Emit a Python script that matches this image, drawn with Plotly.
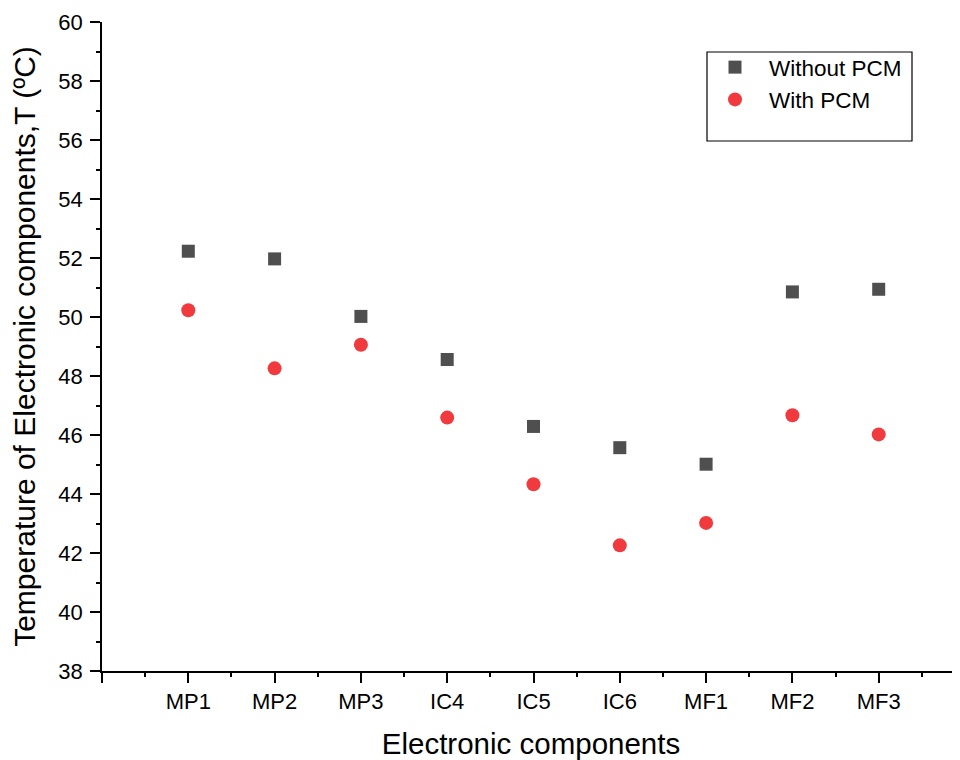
import plotly.graph_objects as go

categories = ["MP1", "MP2", "MP3", "IC4", "IC5", "IC6", "MF1", "MF2", "MF3"]
without_pcm = [52.23, 51.97, 50.02, 48.56, 46.29, 45.57, 45.01, 50.85, 50.94]
with_pcm = [50.23, 48.26, 49.06, 46.59, 44.33, 42.26, 43.02, 46.67, 46.02]
y_ticks = list(range(38, 61, 2))

xpos = list(range(1, len(categories) + 1))
FONT = "Liberation Sans, Arial, sans-serif"

fig = go.Figure()
fig.add_trace(go.Scatter(
    x=xpos, y=without_pcm, mode="markers", name="Without PCM",
    marker=dict(symbol="square", size=13, color="#4f4f4f"),
))
fig.add_trace(go.Scatter(
    x=xpos, y=with_pcm, mode="markers", name="With PCM",
    marker=dict(symbol="circle", size=14, color="#f03a3d"),
))

# page has an 8px body margin; work in page pixels and convert
OFF = 8
W, H = 960 - OFF, 760 - OFF
L, T = 102 - OFF, 22 - OFF
PLOT_BOTTOM = 671 - OFF
B = H - PLOT_BOTTOM
R = 0
pw = W - L - R
ph = H - T - B

def px_to_paper_x(px):
    return (px - OFF - L) / pw

def px_to_paper_y(py):
    return 1 - (py - OFF - T) / ph

fig.add_shape(type="rect", xref="paper", yref="paper",
              x0=px_to_paper_x(707), x1=px_to_paper_x(912),
              y0=px_to_paper_y(141), y1=px_to_paper_y(52),
              line=dict(color="black", width=1.2), fillcolor="rgba(0,0,0,0)")

fig.update_layout(
    width=W, height=H,
    margin=dict(l=L, r=R, t=T, b=B, autoexpand=False),
    plot_bgcolor="white", paper_bgcolor="white",
    font=dict(family=FONT, color="black", size=22),
    showlegend=True,
    legend=dict(
        x=px_to_paper_x(701), y=px_to_paper_y(46), xanchor="left", yanchor="top",
        bgcolor="rgba(0,0,0,0)", borderwidth=0,
        font=dict(family=FONT, size=22.5, color="black"),
        tracegroupgap=0, itemsizing="trace", itemwidth=58,
    ),
    xaxis=dict(
        range=[0, pw / 86.3],
        automargin=False,
        tickmode="array",
        tickvals=[0] + xpos,
        ticktext=[""] + categories,
        ticks="outside", ticklen=10, tickwidth=1.6, tickcolor="black",
        showline=True, linecolor="black", linewidth=1.6,
        showgrid=False, zeroline=False,
        tickfont=dict(family=FONT, size=22, color="black"),
        minor=dict(tickmode="linear", tick0=0.5, dtick=1, ticks="outside",
                   ticklen=4, tickwidth=1.6, tickcolor="black", showgrid=False),
        title=dict(text="Electronic components", font=dict(family=FONT, size=29.5, color="black"),
                   standoff=21),
    ),
    yaxis=dict(
        range=[38, 60],
        automargin=False,
        tickmode="array", tickvals=y_ticks, ticktext=[str(v) for v in y_ticks],
        ticks="outside", ticklen=10, tickwidth=1.6, tickcolor="black",
        showline=True, linecolor="black", linewidth=1.6,
        showgrid=False, zeroline=False,
        ticklabelstandoff=3,
        tickfont=dict(family=FONT, size=22, color="black"),
        minor=dict(tickmode="linear", tick0=39, dtick=2, ticks="outside",
                   ticklen=4, tickwidth=1.6, tickcolor="black", showgrid=False),
        title=dict(text="Temperature of Electronic components,T (ºC)",
                   font=dict(family=FONT, size=30, color="black"), standoff=15),
    ),
)

fig.write_html("out.html")
